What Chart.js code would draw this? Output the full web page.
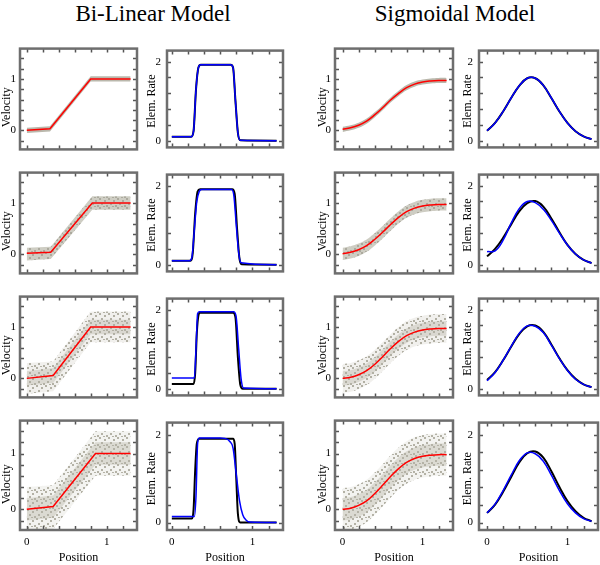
<!DOCTYPE html>
<html>
<head>
<meta charset="utf-8">
<script src="https://cdn.jsdelivr.net/npm/chart.js@4.4.0/dist/chart.umd.min.js"></script>
<style>
    body { margin: 0; background: #fff; }
    #fig { position: relative; width: 600px; height: 565px; overflow: hidden; background: #fff; font-family: 'Liberation Serif', serif; }
    .ttl { position: absolute; top: 1px; width: 240px; text-align: center; font-size: 23px; color: #000; }
    #fig canvas { position: absolute; }
</style>
</head>
<body>
<div id="fig">
    <div class="ttl" style="left:33px">Bi-Linear Model</div>
    <div class="ttl" style="left:335px">Sigmoidal Model</div>
</div>
<script>
// ===============================
// DATA
// ===============================

// axis labels and tick marks
const posTicks  = [0, 1];
const posMarks  = [0, 0.2, 0.4, 0.6, 0.8, 1.0, 1.2];
const velTicks  = [0, 1];
const velMarks  = [-0.2, 0, 0.2, 0.4, 0.6, 0.8, 1.0, 1.2, 1.4];
const rateTicks = [0, 2];
const rateMarks = [0, 0.4, 0.8, 1.2, 1.6, 2.0];

// sample positions of the smooth curves
const curveX = [0, 0.1, 0.2, 0.3, 0.4, 0.5, 0.6, 0.7, 0.8, 0.9, 1.0, 1.1, 1.2, 1.3];

// bi-linear velocity fit (knots), one row per noise level
const linX   = [[0, 0.29, 0.80, 1.3], [0, 0.30, 0.82, 1.3], [0, 0.33, 0.80, 1.3], [0, 0.33, 0.86, 1.3]];
const linFit = [[0, 0.03, 1, 1], [0.02, 0.04, 1, 1], [0, 0.055, 1, 1], [0, 0.05, 1, 1]];
// edges of the grey measurement cloud (outer = sparse, inner = dense core)
const linUp   = [[0.05, 0.08, 1.05, 1.05], [0.13, 0.15, 1.13, 1.13], [0.30, 0.33, 1.30, 1.30], [0.40, 0.43, 1.40, 1.40]];
const linLo   = [[-0.05, -0.02, 0.95, 0.95], [-0.12, -0.09, 0.87, 0.87], [-0.30, -0.25, 0.70, 0.70], [-0.40, -0.35, 0.60, 0.60]];
const linInUp = [null, null, [0.14, 0.20, 1.14, 1.14], [0.20, 0.25, 1.20, 1.20]];
const linInLo = [null, null, [-0.14, -0.09, 0.86, 0.86], [-0.20, -0.15, 0.80, 0.80]];

// bi-linear elongation rate : true (black) and estimated (blue)
const rateLinTrueX = [
    [0, 0.24, 0.27, 0.30, 0.33, 0.36, 0.73, 0.76, 0.79, 0.82, 0.85, 1.3],
    [0, 0.23, 0.26, 0.29, 0.32, 0.35, 0.75, 0.78, 0.81, 0.84, 0.87, 1.3],
    [0, 0.27, 0.29, 0.31, 0.33, 0.35, 0.76, 0.79, 0.82, 0.85, 0.88, 1.3],
    [0, 0.25, 0.27, 0.29, 0.31, 0.34, 0.76, 0.78, 0.80, 0.82, 0.85, 1.3]
];
const rateLinTrueY = [
    [0.1, 0.1, 0.25, 1.3, 1.85, 1.92, 1.92, 1.85, 1.0, 0.2, 0.01, 0],
    [0.1, 0.1, 0.3, 1.3, 1.85, 1.91, 1.91, 1.8, 0.9, 0.15, 0.01, 0],
    [0.12, 0.12, 0.4, 1.4, 1.85, 1.92, 1.92, 1.8, 0.8, 0.1, 0, 0],
    [0.09, 0.09, 0.3, 1.2, 1.8, 1.91, 1.91, 1.8, 1.0, 0.2, 0, 0]
];
const rateLinEstX = [
    [0, 0.24, 0.27, 0.30, 0.33, 0.36, 0.73, 0.76, 0.79, 0.82, 0.85, 1.3],
    [0, 0.22, 0.25, 0.28, 0.31, 0.34, 0.37, 0.74, 0.77, 0.80, 0.83, 0.86, 1.3],
    [0, 0.28, 0.30, 0.32, 0.34, 0.77, 0.80, 0.83, 0.86, 0.89, 1.3],
    [0, 0.28, 0.30, 0.32, 0.34, 0.60, 0.66, 0.72, 0.76, 0.80, 0.84, 0.88, 0.92, 0.97, 1.3]
];
const rateLinEstY = [
    [0.1, 0.1, 0.25, 1.3, 1.85, 1.92, 1.92, 1.85, 1.0, 0.2, 0.01, 0],
    [0.1, 0.1, 0.2, 0.9, 1.6, 1.85, 1.9, 1.9, 1.75, 1.0, 0.3, 0.05, 0],
    [0.27, 0.27, 1.0, 1.9, 1.95, 1.95, 1.8, 1.0, 0.25, 0.02, 0],
    [0.14, 0.14, 0.6, 1.8, 1.93, 1.93, 1.92, 1.85, 1.7, 1.1, 0.5, 0.18, 0.06, 0.01, 0]
];

// sigmoidal velocity fit and grey cloud edges (on curveX)
const sigFit = [
    [0.02, 0.05, 0.10, 0.18, 0.30, 0.44, 0.59, 0.72, 0.83, 0.90, 0.94, 0.96, 0.97, 0.97],
    [0.01, 0.04, 0.09, 0.17, 0.29, 0.43, 0.58, 0.72, 0.83, 0.90, 0.94, 0.96, 0.97, 0.97],
    [0.00, 0.02, 0.07, 0.15, 0.27, 0.42, 0.58, 0.72, 0.83, 0.90, 0.94, 0.96, 0.97, 0.97],
    [0.00, 0.02, 0.07, 0.15, 0.28, 0.43, 0.59, 0.73, 0.84, 0.91, 0.95, 0.97, 0.98, 0.98]
];
const sigUp = [
    [0.07, 0.10, 0.15, 0.23, 0.35, 0.49, 0.64, 0.77, 0.88, 0.95, 0.99, 1.01, 1.02, 1.02],
    [0.13, 0.16, 0.21, 0.29, 0.41, 0.55, 0.70, 0.84, 0.95, 1.02, 1.06, 1.08, 1.09, 1.09],
    [0.28, 0.30, 0.35, 0.43, 0.55, 0.70, 0.86, 1.00, 1.11, 1.18, 1.22, 1.24, 1.25, 1.25],
    [0.38, 0.40, 0.45, 0.53, 0.66, 0.81, 0.97, 1.11, 1.22, 1.29, 1.33, 1.35, 1.36, 1.36]
];
const sigLo = [
    [-0.03, 0.00, 0.05, 0.13, 0.25, 0.39, 0.54, 0.67, 0.78, 0.85, 0.89, 0.91, 0.92, 0.92],
    [-0.11, -0.08, -0.03, 0.05, 0.17, 0.31, 0.46, 0.60, 0.71, 0.78, 0.82, 0.84, 0.85, 0.85],
    [-0.28, -0.26, -0.21, -0.13, -0.01, 0.14, 0.30, 0.44, 0.55, 0.62, 0.66, 0.68, 0.69, 0.69],
    [-0.38, -0.36, -0.31, -0.23, -0.10, 0.05, 0.21, 0.35, 0.46, 0.53, 0.57, 0.59, 0.60, 0.60]
];
const sigInUp = [null, null,
    [0.14, 0.16, 0.21, 0.29, 0.41, 0.56, 0.72, 0.86, 0.97, 1.04, 1.08, 1.10, 1.11, 1.11],
    [0.20, 0.22, 0.27, 0.35, 0.48, 0.63, 0.79, 0.93, 1.04, 1.11, 1.15, 1.17, 1.18, 1.18]
];
const sigInLo = [null, null,
    [-0.14, -0.12, -0.07, 0.01, 0.13, 0.28, 0.44, 0.58, 0.69, 0.76, 0.80, 0.82, 0.83, 0.83],
    [-0.20, -0.18, -0.13, -0.05, 0.08, 0.23, 0.39, 0.53, 0.64, 0.71, 0.75, 0.77, 0.78, 0.78]
];

// sigmoidal elongation rate : true (black) and estimated (blue)
const rateSigTrue = [
    [0.25, 0.45, 0.74, 1.08, 1.39, 1.58, 1.58, 1.40, 1.08, 0.74, 0.45, 0.24, 0.11, 0.04],
    [0.21, 0.40, 0.68, 1.02, 1.35, 1.56, 1.61, 1.47, 1.17, 0.82, 0.50, 0.27, 0.12, 0.04],
    [0.22, 0.42, 0.72, 1.06, 1.38, 1.58, 1.60, 1.44, 1.12, 0.77, 0.47, 0.25, 0.11, 0.04],
    [0.22, 0.41, 0.70, 1.04, 1.37, 1.58, 1.62, 1.48, 1.17, 0.81, 0.49, 0.26, 0.11, 0.03]
];
const rateSigEst = [
    [0.25, 0.45, 0.74, 1.08, 1.39, 1.58, 1.58, 1.40, 1.08, 0.74, 0.45, 0.24, 0.11, 0.04],
    [0.33, 0.35, 0.62, 1.05, 1.42, 1.60, 1.57, 1.40, 1.12, 0.80, 0.50, 0.27, 0.12, 0.04],
    [0.20, 0.41, 0.72, 1.07, 1.40, 1.59, 1.58, 1.42, 1.10, 0.76, 0.46, 0.24, 0.11, 0.04],
    [0.22, 0.42, 0.73, 1.08, 1.41, 1.59, 1.57, 1.40, 1.08, 0.73, 0.43, 0.22, 0.09, 0.03]
];

// ===============================
// LAYOUT
// ===============================

const boxLeft  = [20, 167, 335, 479];
const boxRight = [137, 283, 453, 598];
const boxTop   = [40, 164, 288, 412];
const boxH     = 118;
const axisW    = [20, 22, 19, 18];
const xMin     = [-0.085, -0.06, -0.095, -0.10];

const serif = "'Liberation Serif', 'Times New Roman', serif";
Chart.defaults.font.family = serif;
Chart.defaults.color = '#000';
const labelFont = { size: 11 };
const titleFont = { size: 12 };
const fig = document.getElementById('fig');

// frame, inward tick marks on the four sides, y title centred between the labelled ticks
const frameTicks = {
    id: 'frameTicks',
    afterDatasetsDraw(chart, args, opts) {
        const { ctx, chartArea: a, scales: { x, y } } = chart;
        ctx.save();
        ctx.strokeStyle = '#555';
        ctx.lineWidth = 1.5;
        ctx.beginPath();
        opts.xMarks.forEach(v => {
            const px = Math.round(x.getPixelForValue(v)) + 0.5;
            ctx.moveTo(px, a.top); ctx.lineTo(px, a.top + 4);
            ctx.moveTo(px, a.bottom); ctx.lineTo(px, a.bottom - 4);
        });
        opts.yMarks.forEach(v => {
            const py = Math.round(y.getPixelForValue(v)) + 0.5;
            ctx.moveTo(a.left, py); ctx.lineTo(a.left + 4, py);
            ctx.moveTo(a.right, py); ctx.lineTo(a.right - 4, py);
        });
        ctx.stroke();
        ctx.strokeStyle = '#6e6e6e';
        ctx.lineWidth = 2.5;
        ctx.strokeRect(a.left, a.top, a.right - a.left, a.bottom - a.top);

        ctx.translate(y.left + 7, y.getPixelForValue(opts.titleAt));
        ctx.rotate(-Math.PI / 2);
        ctx.font = '12px ' + serif;
        ctx.fillStyle = '#000';
        ctx.textAlign = 'center';
        ctx.textBaseline = 'middle';
        ctx.fillText(opts.title, 0, 0);
        ctx.restore();
    }
};

function speckle(base, dot) {
    const t = document.createElement('canvas');
    t.width = 9; t.height = 9;
    const c = t.getContext('2d');
    c.fillStyle = base;
    c.fillRect(0, 0, 9, 9);
    c.fillStyle = dot;
    [[0, 0], [5, 2], [2, 5], [7, 7], [4, 8]].forEach(p => c.fillRect(p[0], p[1], 2, 2));
    return c.createPattern(t, 'repeat');
}
const cloudFill = [
    'rgb(186,184,172)',
    speckle('rgba(194,192,180,0.8)', 'rgb(172,170,158)'),
    speckle('rgba(214,212,203,0.35)', 'rgb(178,176,164)'),
    speckle('rgba(216,214,205,0.3)', 'rgb(180,178,166)')
];
const coreFill = speckle('rgba(196,194,182,0.6)', 'rgb(168,166,154)');

function pts(xs, ys) {
    return xs.map((v, i) => ({ x: v, y: ys[i] }));
}

function band(xs, up, lo, fillStyle, smooth) {
    return [
        { data: pts(xs, up), borderWidth: 0, pointRadius: 0, fill: false, order: 3, tension: smooth ? 0.4 : 0 },
        { data: pts(xs, lo), borderWidth: 0, pointRadius: 0, fill: '-1', backgroundColor: fillStyle, order: 3, tension: smooth ? 0.4 : 0 }
    ];
}

function cloud(xs, up, lo, inUp, inLo, row, smooth) {
    let sets = band(xs, up, lo, cloudFill[row], smooth);
    if (inUp) sets = sets.concat(band(xs, inUp, inLo, coreFill, smooth));
    return sets;
}

// mode : 'step' (monotone, no overshoot), 'curve' (plain spline), 'straight'
function line(xs, ys, color, width, order, mode) {
    return {
        data: pts(xs, ys), borderColor: color, borderWidth: width, pointRadius: 0, fill: false, order: order,
        cubicInterpolationMode: mode === 'step' ? 'monotone' : 'default',
        tension: mode === 'straight' ? 0 : 0.4
    };
}

function panel(col, row, datasets, kind) {
    const left = boxLeft[col] - axisW[col];
    const top = boxTop[row] - 2;
    const xh = row === 3 ? 35 : 2;
    const cv = document.createElement('canvas');
    cv.width = boxRight[col] - left + 2;
    cv.height = boxH + 2 + xh;
    cv.style.left = left + 'px';
    cv.style.top = top + 'px';
    fig.appendChild(cv);

    const isVel = kind === 'vel';
    new Chart(cv, {
        type: 'line',
        data: { datasets: datasets },
        options: {
            responsive: false,
            animation: false,
            devicePixelRatio: 1,
            layout: { padding: { top: 2, right: 2, left: 0, bottom: 0 } },
            plugins: {
                legend: { display: false },
                tooltip: { enabled: false },
                frameTicks: {
                    xMarks: posMarks,
                    yMarks: isVel ? velMarks : rateMarks,
                    title: isVel ? 'Velocity' : 'Elem. Rate',
                    titleAt: isVel ? 0.45 : 1
                }
            },
            scales: {
                x: {
                    type: 'linear', min: xMin[col], max: 1.38,
                    grid: { display: false, drawTicks: false }, border: { display: false },
                    ticks: { display: row === 3, padding: 6, font: labelFont, maxRotation: 0 },
                    afterBuildTicks: s => { s.ticks = posTicks.map(v => ({ value: v })); },
                    afterFit: s => { s.height = xh; },
                    title: { display: row === 3, text: 'Position', font: titleFont, padding: 0 }
                },
                y: {
                    type: 'linear',
                    min: isVel ? -0.37 : -0.17,
                    max: isVel ? 1.59 : 2.28,
                    grid: { display: false, drawTicks: false }, border: { display: false },
                    ticks: { padding: isVel ? 4 : 6, font: labelFont },
                    afterBuildTicks: s => { s.ticks = (isVel ? velTicks : rateTicks).map(v => ({ value: v })); },
                    afterFit: s => { s.width = axisW[col]; }
                }
            }
        },
        plugins: [frameTicks]
    });
}

// ===============================
// GRAPHIQUES
// ===============================

for (let r = 0; r < 4; r++) {
    panel(0, r, cloud(linX[r], linUp[r], linLo[r], linInUp[r], linInLo[r], r, false).concat([
        line(linX[r], linFit[r], '#ff0000', 1.5, 0, 'straight')
    ]), 'vel');

    panel(1, r, [
        line(rateLinEstX[r], rateLinEstY[r], '#0000ff', 1.5, 0, 'step'),
        line(rateLinTrueX[r], rateLinTrueY[r], '#000000', 2, 1, 'step')
    ], 'rate');

    panel(2, r, cloud(curveX, sigUp[r], sigLo[r], sigInUp[r], sigInLo[r], r, true).concat([
        line(curveX, sigFit[r], '#ff0000', 1.5, 0, 'curve')
    ]), 'vel');

    panel(3, r, [
        line(curveX, rateSigEst[r], '#0000ff', 1.5, 0, 'curve'),
        line(curveX, rateSigTrue[r], '#000000', 2, 1, 'curve')
    ], 'rate');
}
</script>
</body>
</html>
